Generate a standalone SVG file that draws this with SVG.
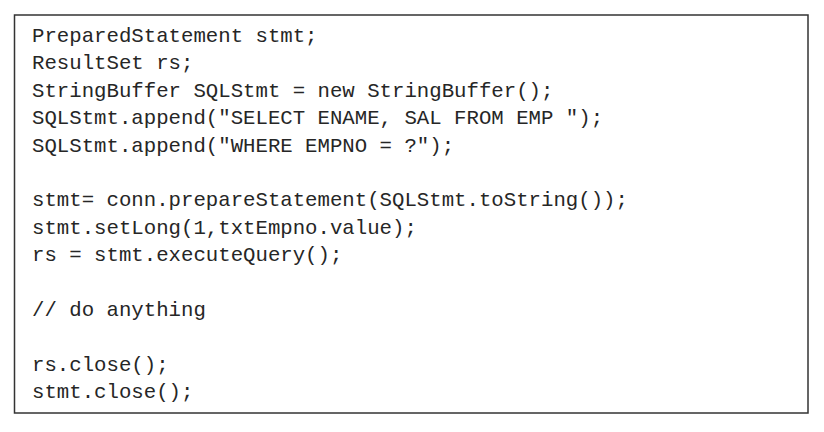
<svg xmlns="http://www.w3.org/2000/svg" width="824" height="432" viewBox="0 0 824 432">
<style>
.code{font-family:"Liberation Mono","Courier New",monospace;font-size:20.7px;fill:#262626}
.box{fill:#ffffff;stroke:#333333;stroke-width:1.5}
</style>
<rect x="0" y="0" width="824" height="432" fill="#ffffff"/>
<g id="codebox">
<rect class="box" x="14.5" y="15" width="793.5" height="398"/>
<text class="code" xml:space="preserve">
<tspan x="32" y="42">PreparedStatement stmt;</tspan>
<tspan x="32" y="69.4">ResultSet rs;</tspan>
<tspan x="32" y="96.8">StringBuffer SQLStmt = new StringBuffer();</tspan>
<tspan x="32" y="124.2">SQLStmt.append("SELECT ENAME, SAL FROM EMP ");</tspan>
<tspan x="32" y="151.6">SQLStmt.append("WHERE EMPNO = ?");</tspan>
<tspan x="32" y="206.4">stmt= conn.prepareStatement(SQLStmt.toString());</tspan>
<tspan x="32" y="233.8">stmt.setLong(1,txtEmpno.value);</tspan>
<tspan x="32" y="261.2">rs = stmt.executeQuery();</tspan>
<tspan x="32" y="316">// do anything</tspan>
<tspan x="32" y="370.8">rs.close();</tspan>
<tspan x="32" y="398.2">stmt.close();</tspan>
</text>
</g>
</svg>
